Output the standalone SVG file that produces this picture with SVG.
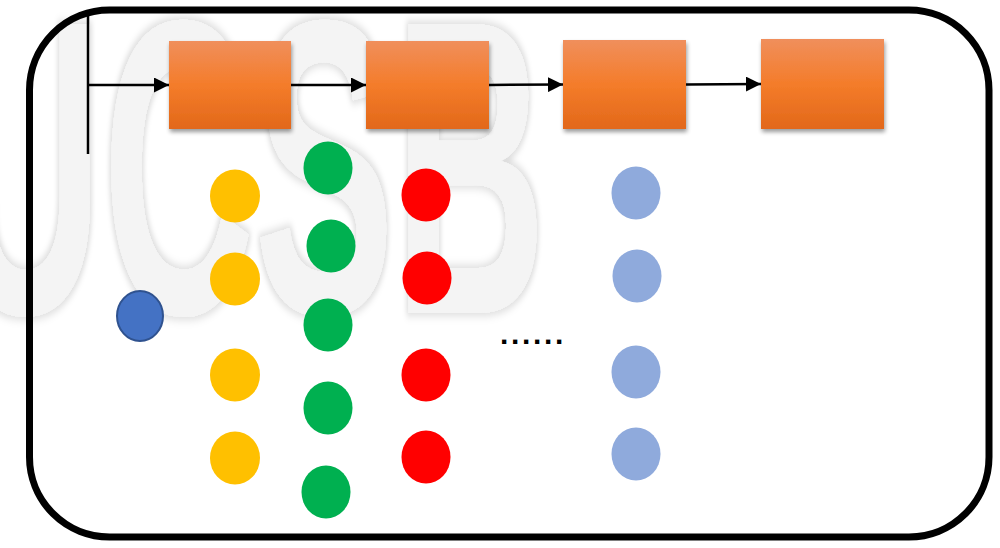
<svg xmlns="http://www.w3.org/2000/svg" width="1000" height="548" viewBox="0 0 1000 548">
  <defs>
    <linearGradient id="orangeGrad" x1="0" y1="0" x2="0" y2="1">
      <stop offset="0" stop-color="#f08f5c"/>
      <stop offset="0.5" stop-color="#f47c2a"/>
      <stop offset="1" stop-color="#e2681a"/>
    </linearGradient>
    <filter id="boxShadow" x="-10%" y="-10%" width="125%" height="130%">
      <feGaussianBlur in="SourceAlpha" stdDeviation="2"/>
      <feOffset dx="1" dy="3" result="b"/>
      <feComponentTransfer><feFuncA type="linear" slope="0.4"/></feComponentTransfer>
      <feMerge><feMergeNode/><feMergeNode in="SourceGraphic"/></feMerge>
    </filter>
    <filter id="wmShadow" x="-10%" y="-10%" width="120%" height="120%">
      <feMorphology in="SourceAlpha" operator="dilate" radius="3" result="d"/>
      <feGaussianBlur in="d" stdDeviation="4" result="b"/>
      <feFlood flood-color="#000" flood-opacity="0.13"/>
      <feComposite in2="b" operator="in" result="s"/>
      <feMerge><feMergeNode in="s"/><feMergeNode in="SourceGraphic"/></feMerge>
    </filter>
    <marker id="arrow" markerUnits="userSpaceOnUse" markerWidth="15" markerHeight="15" viewBox="0 0 15 15" refX="15" refY="7.5" orient="auto">
      <path d="M0,0 L15,7.5 L0,15 z" fill="#000"/>
    </marker>
  </defs>
  <style>
    .box { fill: url(#orangeGrad); filter: url(#boxShadow); }
    .conn { stroke: #000; stroke-width: 2.5; fill: none; }
    .yellow { fill: #ffc000; }
    .green { fill: #00b050; }
    .red { fill: #ff0000; }
    .lblue { fill: #8faadc; }
    .blue { fill: #4472c4; stroke: #2f528f; stroke-width: 2; }
    .wm { font-family: "Liberation Sans", Arial, sans-serif; font-weight: bold; font-size: 420px; }
  </style>
  <rect width="1000" height="548" fill="#ffffff"/>

  <g id="watermark" transform="translate(-49,0) scale(0.5,1)">
    <text class="wm" x="0" y="313" fill="#f4f4f4" filter="url(#wmShadow)">UCSB</text>
  </g>

  <g id="frame">
    <rect x="29.5" y="10" width="959.5" height="527" rx="80" ry="80" fill="none" stroke="#000" stroke-width="7"/>
  </g>

  <g id="connectors">
    <path class="conn" d="M88,13 L88,154"/>
    <path class="conn" d="M88,85 L169,85" marker-end="url(#arrow)"/>
    <path class="conn" d="M291,85 L366,85" marker-end="url(#arrow)"/>
    <path class="conn" d="M489,85 L563,84.5" marker-end="url(#arrow)"/>
    <path class="conn" d="M686,84.5 L761,84" marker-end="url(#arrow)"/>
  </g>

  <g id="box1"><rect class="box" x="169" y="41" width="122" height="88"/></g>
  <g id="box2"><rect class="box" x="366" y="41" width="123" height="88"/></g>
  <g id="box3"><rect class="box" x="563" y="40" width="123" height="89"/></g>
  <g id="box4"><rect class="box" x="761" y="39" width="123" height="90"/></g>

  <g id="blueNode"><ellipse class="blue" cx="140" cy="316" rx="23" ry="25"/></g>

  <g id="yellowNodes">
    <ellipse class="yellow" cx="235" cy="196" rx="25" ry="26.5"/>
    <ellipse class="yellow" cx="235" cy="279" rx="25" ry="26.5"/>
    <ellipse class="yellow" cx="235" cy="375" rx="25" ry="26.5"/>
    <ellipse class="yellow" cx="235" cy="458" rx="25" ry="26.5"/>
  </g>
  <g id="greenNodes">
    <ellipse class="green" cx="328" cy="168" rx="24.5" ry="26.5"/>
    <ellipse class="green" cx="331" cy="246" rx="24.5" ry="26.5"/>
    <ellipse class="green" cx="328" cy="325" rx="24.5" ry="26.5"/>
    <ellipse class="green" cx="328" cy="408" rx="24.5" ry="26.5"/>
    <ellipse class="green" cx="326" cy="492" rx="24.5" ry="26.5"/>
  </g>
  <g id="redNodes">
    <ellipse class="red" cx="426" cy="195" rx="24.5" ry="26.5"/>
    <ellipse class="red" cx="427" cy="278" rx="24.5" ry="26.5"/>
    <ellipse class="red" cx="426" cy="375" rx="24.5" ry="26.5"/>
    <ellipse class="red" cx="426" cy="457" rx="24.5" ry="26.5"/>
  </g>
  <g id="lightBlueNodes">
    <ellipse class="lblue" cx="636" cy="193" rx="24.5" ry="26.5"/>
    <ellipse class="lblue" cx="637" cy="276" rx="24.5" ry="26.5"/>
    <ellipse class="lblue" cx="636" cy="372" rx="24.5" ry="26.5"/>
    <ellipse class="lblue" cx="636" cy="454" rx="24.5" ry="26.5"/>
  </g>

  <g id="ellipsis">
    <text x="500" y="344" font-family="Liberation Sans, Arial, sans-serif" font-weight="bold" font-size="30" letter-spacing="2.66" fill="#000">......</text>
  </g>
</svg>
